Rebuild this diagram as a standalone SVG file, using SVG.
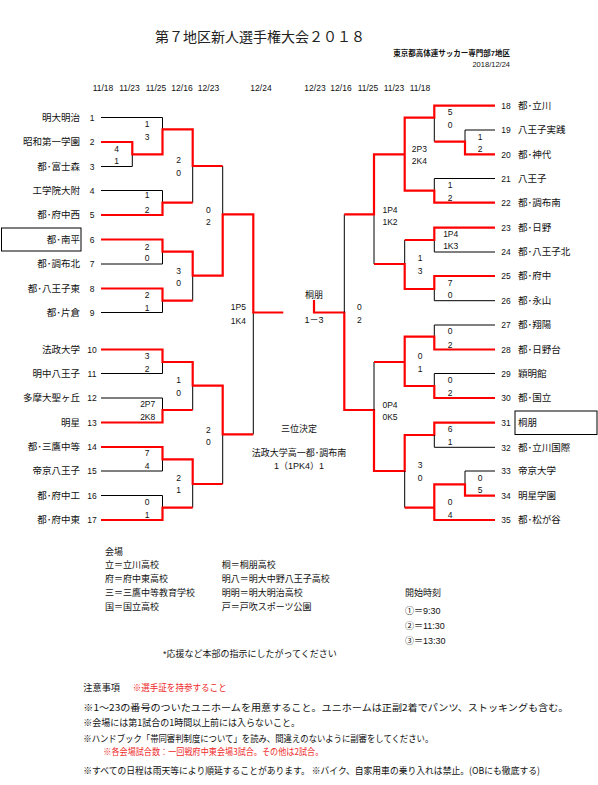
<svg xmlns="http://www.w3.org/2000/svg" width="598" height="785" viewBox="0 0 598 785">
<style>
text{font-family:"Liberation Sans","Noto Sans CJK JP",sans-serif;fill:#111}
.title{font-family:"Noto Sans CJK JP",sans-serif;font-size:14px;text-anchor:middle;fill:#222}
.org{font-size:7.5px;text-anchor:end;font-weight:bold}
.dt{font-size:8.5px;text-anchor:middle}
.nmL{font-size:9.5px;text-anchor:end}
.nmR{font-size:9.5px;text-anchor:start}
.no{font-size:8.5px;text-anchor:middle}
.sc{font-size:8.5px;text-anchor:middle}
.ct{font-size:9px;text-anchor:middle}
.vn{font-size:9px}
.nt{font-size:9.5px;font-family:"Noto Sans CJK JP",sans-serif}
.red{fill:#ee2a2a}
.b{stroke:#000;stroke-width:1;fill:none}
.r{stroke:#f00;stroke-width:2.2;fill:none}
.box{stroke:#000;stroke-width:1;fill:none}
</style>
<rect width="598" height="785" fill="#fff"/>
<g id="header">
<text class="title" x="260" y="42">第７地区新人選手権大会２０１８</text>
<text class="org" x="510" y="56">東京都高体連サッカー専門部7地区</text>
<text class="org" x="510" y="66.5" style="font-weight:normal">2018/12/24</text>
<text class="dt" x="103" y="90.5">11/18</text>
<text class="dt" x="129.5" y="90.5">11/23</text>
<text class="dt" x="156" y="90.5">11/25</text>
<text class="dt" x="182" y="90.5">12/16</text>
<text class="dt" x="208.5" y="90.5">12/23</text>
<text class="dt" x="261" y="90.5">12/24</text>
<text class="dt" x="315" y="90.5">12/23</text>
<text class="dt" x="341" y="90.5">12/16</text>
<text class="dt" x="368" y="90.5">11/25</text>
<text class="dt" x="394" y="90.5">11/23</text>
<text class="dt" x="420" y="90.5">11/18</text>
</g>
<g id="connectors">
<path class="b" d="M101 117.5H162.5V129.3M101 166.5H132.3V154.3M101 190.5H162.5V202.7M101 264H162.5V251.7M101 312.5H162.5V300.7M101 373.5H162.5V362M101 398H162.5V410M101 471H162.5V459.3M101 495.5H162.5V507.7M192.7 166V202.7M192.7 275.7V300.7M192.7 385.7V410M192.7 484V507.7M222.7 166V214.3M222.7 434.3V484M253.3 312.5V434.3"/>
<path class="r" d="M101 142H132.3V154.3H162.5V129.3H192.7V166H222.7M101 215H162.5V202.7H192.7M101 239.5H162.5V251.7H192.7V275.7H222.7V214.3H253.3V312.5H283.3M101 288.5H162.5V300.7H192.7M101 349.5H162.5V362H192.7V385.7H222.7V434.3H253.3M101 422.5H162.5V410H192.7M101 447H162.5V459.3H192.7V484H222.7M101 520H162.5V507.7H192.7"/>
<path class="r" d="M314 300V312.5H344.3V410H374V471H404.7V435H434.3V422.7H495"/>
<path class="b" d="M495 130H465V141.7M434.3 117.7V141.7M495 178.5H434.3V190.7M495 252H434.3V240M495 300.7H434.3V289M404.7 240V264M374 214.3V264M344.3 214.3V312.5M495 325H434.3V336.7M495 373.5H434.3V386M374 362V410M495 447.3H434.3V435M495 471H465V484.3M404.7 471V507.7"/>
<path class="r" d="M495 105.7H434.3V117.7H404.7V190.7H434.3V202.7H495M404.7 154.3H374V214.3H344.3M495 154.3H465V141.7H434.3M495 227.7H434.3V240H404.7M495 276H434.3V289H404.7V264H374M495 349.5H434.3V336.7H404.7V386H434.3V398H495M404.7 362H374M495 495.7H465V484.3H434.3V520H495M434.3 507.7H404.7"/>
</g>
<rect class="box" x="1.5" y="228" width="79.5" height="23"/>
<rect class="box" x="515" y="411" width="82" height="23.5"/>
<g id="team-1"><text class="nmL" x="80" y="120.8">明大明治</text><text class="no" x="92" y="120.8">1</text></g>
<g id="team-2"><text class="nmL" x="80" y="145.3">昭和第一学園</text><text class="no" x="92" y="145.3">2</text></g>
<g id="team-3"><text class="nmL" x="80" y="169.8">都･富士森</text><text class="no" x="92" y="169.8">3</text></g>
<g id="team-4"><text class="nmL" x="80" y="193.8">工学院大附</text><text class="no" x="92" y="193.8">4</text></g>
<g id="team-5"><text class="nmL" x="80" y="218.3">都･府中西</text><text class="no" x="92" y="218.3">5</text></g>
<g id="team-6"><text class="nmL" x="80" y="242.8">都･南平</text><text class="no" x="92" y="242.8">6</text></g>
<g id="team-7"><text class="nmL" x="80" y="267.3">都･調布北</text><text class="no" x="92" y="267.3">7</text></g>
<g id="team-8"><text class="nmL" x="80" y="291.8">都･八王子東</text><text class="no" x="92" y="291.8">8</text></g>
<g id="team-9"><text class="nmL" x="80" y="315.8">都･片倉</text><text class="no" x="92" y="315.8">9</text></g>
<g id="team-10"><text class="nmL" x="80" y="352.8">法政大学</text><text class="no" x="92" y="352.8">10</text></g>
<g id="team-11"><text class="nmL" x="80" y="376.8">明中八王子</text><text class="no" x="92" y="376.8">11</text></g>
<g id="team-12"><text class="nmL" x="80" y="401.3">多摩大聖ヶ丘</text><text class="no" x="92" y="401.3">12</text></g>
<g id="team-13"><text class="nmL" x="80" y="425.8">明星</text><text class="no" x="92" y="425.8">13</text></g>
<g id="team-14"><text class="nmL" x="80" y="450.3">都･三鷹中等</text><text class="no" x="92" y="450.3">14</text></g>
<g id="team-15"><text class="nmL" x="80" y="474.3">帝京八王子</text><text class="no" x="92" y="474.3">15</text></g>
<g id="team-16"><text class="nmL" x="80" y="498.8">都･府中工</text><text class="no" x="92" y="498.8">16</text></g>
<g id="team-17"><text class="nmL" x="80" y="523.3">都･府中東</text><text class="no" x="92" y="523.3">17</text></g>
<g id="team-18"><text class="no" x="506" y="109">18</text><text class="nmR" x="518" y="109">都･立川</text></g>
<g id="team-19"><text class="no" x="506" y="133.3">19</text><text class="nmR" x="518" y="133.3">八王子実践</text></g>
<g id="team-20"><text class="no" x="506" y="157.6">20</text><text class="nmR" x="518" y="157.6">都･神代</text></g>
<g id="team-21"><text class="no" x="506" y="181.8">21</text><text class="nmR" x="518" y="181.8">八王子</text></g>
<g id="team-22"><text class="no" x="506" y="206">22</text><text class="nmR" x="518" y="206">都･調布南</text></g>
<g id="team-23"><text class="no" x="506" y="231">23</text><text class="nmR" x="518" y="231">都･日野</text></g>
<g id="team-24"><text class="no" x="506" y="255.3">24</text><text class="nmR" x="518" y="255.3">都･八王子北</text></g>
<g id="team-25"><text class="no" x="506" y="279.3">25</text><text class="nmR" x="518" y="279.3">都･府中</text></g>
<g id="team-26"><text class="no" x="506" y="304">26</text><text class="nmR" x="518" y="304">都･永山</text></g>
<g id="team-27"><text class="no" x="506" y="328.3">27</text><text class="nmR" x="518" y="328.3">都･翔陽</text></g>
<g id="team-28"><text class="no" x="506" y="352.8">28</text><text class="nmR" x="518" y="352.8">都･日野台</text></g>
<g id="team-29"><text class="no" x="506" y="376.8">29</text><text class="nmR" x="518" y="376.8">穎明館</text></g>
<g id="team-30"><text class="no" x="506" y="401.3">30</text><text class="nmR" x="518" y="401.3">都･国立</text></g>
<g id="team-31"><text class="no" x="506" y="426">31</text><text class="nmR" x="518" y="426">桐朋</text></g>
<g id="team-32"><text class="no" x="506" y="450.6">32</text><text class="nmR" x="518" y="450.6">都･立川国際</text></g>
<g id="team-33"><text class="no" x="506" y="474.3">33</text><text class="nmR" x="518" y="474.3">帝京大学</text></g>
<g id="team-34"><text class="no" x="506" y="499">34</text><text class="nmR" x="518" y="499">明星学園</text></g>
<g id="team-35"><text class="no" x="506" y="523.3">35</text><text class="nmR" x="518" y="523.3">都･松が谷</text></g>
<g id="scores">
<text class="sc" x="116.7" y="151.5">4</text><text class="sc" x="116.7" y="164">1</text>
<text class="sc" x="147" y="127">1</text><text class="sc" x="147" y="139.5">3</text>
<text class="sc" x="178.7" y="163.2">2</text><text class="sc" x="178.7" y="176.2">0</text>
<text class="sc" x="147" y="198.2">1</text><text class="sc" x="147" y="213.2">2</text>
<text class="sc" x="208.3" y="212.5">0</text><text class="sc" x="208.3" y="225">2</text>
<text class="sc" x="147" y="250">2</text><text class="sc" x="147" y="261.2">0</text>
<text class="sc" x="178.7" y="274">3</text><text class="sc" x="178.7" y="286">0</text>
<text class="sc" x="147" y="297.5">2</text><text class="sc" x="147" y="310.5">1</text>
<text class="sc" x="238.3" y="310">1P5</text><text class="sc" x="238.3" y="324">1K4</text>
<text class="sc" x="147" y="359.2">3</text><text class="sc" x="147" y="371.5">2</text>
<text class="sc" x="178.7" y="383.2">1</text><text class="sc" x="178.7" y="395.5">0</text>
<text class="sc" x="147.7" y="407.2">2P7</text><text class="sc" x="147.7" y="420">2K8</text>
<text class="sc" x="208.3" y="432.5">2</text><text class="sc" x="208.3" y="445">0</text>
<text class="sc" x="147" y="455.5">7</text><text class="sc" x="147" y="469.2">4</text>
<text class="sc" x="178.7" y="481">2</text><text class="sc" x="178.7" y="493.2">1</text>
<text class="sc" x="147" y="505">0</text><text class="sc" x="147" y="517.5">1</text>
<text class="sc" x="359.3" y="310">0</text><text class="sc" x="359.3" y="322.5">2</text>
<text class="sc" x="450" y="115">5</text><text class="sc" x="450" y="127.5">0</text>
<text class="sc" x="480" y="140">1</text><text class="sc" x="480" y="152.2">2</text>
<text class="sc" x="419.3" y="151.5">2P3</text><text class="sc" x="419.3" y="164.2">2K4</text>
<text class="sc" x="450" y="188.2">1</text><text class="sc" x="450" y="201">2</text>
<text class="sc" x="390" y="213.2">1P4</text><text class="sc" x="390" y="225">1K2</text>
<text class="sc" x="450.7" y="236.5">1P4</text><text class="sc" x="450.7" y="249">1K3</text>
<text class="sc" x="420" y="260.5">1</text><text class="sc" x="420" y="274">3</text>
<text class="sc" x="450" y="286">7</text><text class="sc" x="450" y="298.2">0</text>
<text class="sc" x="450" y="334.2">0</text><text class="sc" x="450" y="347.5">2</text>
<text class="sc" x="420" y="359.2">0</text><text class="sc" x="420" y="371.5">1</text>
<text class="sc" x="450" y="382.5">0</text><text class="sc" x="450" y="396">2</text>
<text class="sc" x="390" y="408.2">0P4</text><text class="sc" x="390" y="420">0K5</text>
<text class="sc" x="450" y="432.2">6</text><text class="sc" x="450" y="445">1</text>
<text class="sc" x="420" y="468.2">3</text><text class="sc" x="420" y="481">0</text>
<text class="sc" x="480" y="481">0</text><text class="sc" x="480" y="493.2">5</text>
<text class="sc" x="450" y="505">0</text><text class="sc" x="450" y="517.5">4</text>
</g>
<g id="final">
<text class="ct" x="314" y="297.6">桐朋</text>
<text class="ct" x="314" y="322.6">1－3</text>
</g>
<g id="third-place">
<text class="ct" x="299" y="432.3">三位決定</text>
<text class="ct" x="299" y="455.6">法政大学高一都･調布南</text>
<text class="ct" x="299" y="468.6">1（1PK4）1</text>
</g>
<g id="venues">
<text class="vn" x="105" y="555">会場</text>
<text class="vn" x="105" y="568.3">立＝立川高校</text>
<text class="vn" x="105" y="582">府＝府中東高校</text>
<text class="vn" x="105" y="596">三＝三鷹中等教育学校</text>
<text class="vn" x="105" y="610">国＝国立高校</text>
<text class="vn" x="221.7" y="568.3">桐＝桐朋高校</text>
<text class="vn" x="221.7" y="582">明八＝明大中野八王子高校</text>
<text class="vn" x="221.7" y="596">明明＝明大明治高校</text>
<text class="vn" x="221.7" y="610">戸＝戸吹スポーツ公園</text>
<text class="vn" x="405" y="596">開始時刻</text>
<text class="vn" x="405" y="614">①＝9:30</text>
<text class="vn" x="405" y="629">②＝11:30</text>
<text class="vn" x="405" y="643.5">③＝13:30</text>
<text class="vn" x="163" y="656.5">*応援など本部の指示にしたがってください</text>
</g>
<g id="notes">
<text class="nt" x="83.3" y="691" textLength="36.7" lengthAdjust="spacingAndGlyphs">注意事項</text>
<text class="nt red" x="132.7" y="691" textLength="94" lengthAdjust="spacingAndGlyphs">※選手証を持参すること</text>
<text class="nt" x="83.3" y="710.5" textLength="485" lengthAdjust="spacingAndGlyphs">※1～23の番号のついたユニホームを用意すること。ユニホームは正副2着でパンツ、ストッキングも含む。</text>
<text class="nt" x="83.3" y="725.5" textLength="216.7" lengthAdjust="spacingAndGlyphs">※会場には第1試合の1時間以上前には入らないこと。</text>
<text class="nt" x="83.3" y="742" textLength="350" lengthAdjust="spacingAndGlyphs">※ハンドブック「帯同審判制度について」を読み、間違えのないように副審をしてください。</text>
<text class="nt red" x="103.3" y="755" textLength="220" lengthAdjust="spacingAndGlyphs" style="font-size:9px">※各会場試合数：一回戦府中東会場3試合。その他は2試合。</text>
<text class="nt" x="83.3" y="773.5" textLength="456.7" lengthAdjust="spacingAndGlyphs">※すべての日程は雨天等により順延することがあります。 ※バイク、自家用車の乗り入れは禁止。(OBにも徹底する)</text>
</g>
</svg>
